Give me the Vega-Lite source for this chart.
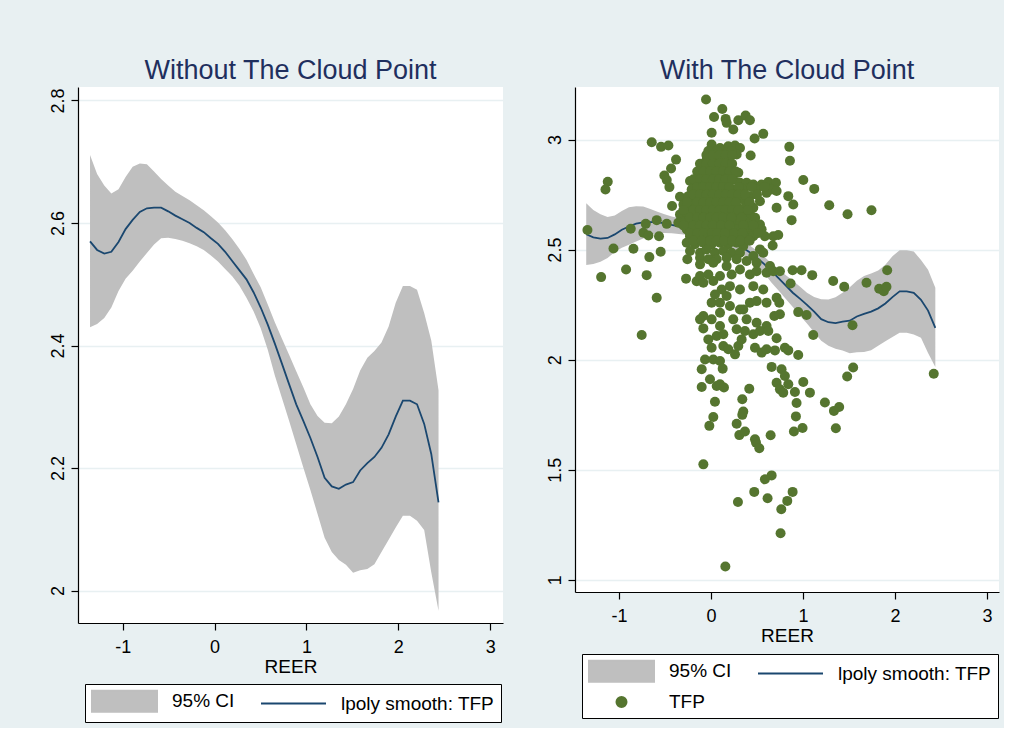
{
"$schema": "https://vega.github.io/schema/vega-lite/v6.json",
"background": "#e8f0f2",
"padding": {"left": 48, "top": 57, "right": 5, "bottom": 5},
"config": {
  "font": "Liberation Sans",
  "view": {"fill": "white", "stroke": null},
  "axis": {"domainColor": "black", "tickColor": "black", "labelColor": "black", "titleColor": "black", "labelFont": "Liberation Sans", "titleFont": "Liberation Sans", "labelFontSize": 18, "titleFontSize": 19, "titleFontWeight": "normal", "tickSize": 7, "gridColor": "#e8f0f2", "gridWidth": 1.5, "domainWidth": 1.2, "tickWidth": 1.2, "labelExpr": "'' + datum.value"},
  "title": {"font": "Liberation Sans", "fontSize": 27, "fontWeight": "normal", "color": "#1f2f5e", "frame": "group", "baseline": "alphabetic", "offset": 2, "anchor": "middle"},
  "legend": {"strokeColor": "black", "fillColor": "white", "padding": 6, "labelFont": "Liberation Sans", "labelFontSize": 19, "labelColor": "black", "labelLimit": 400, "symbolSize": 400, "labelOffset": 59, "columnPadding": 22, "rowPadding": 5, "gridAlign": "each"}
},
"datasets": {
  "smooth": [
    {"x":-1.356,"lo":2.430,"fit":2.570,"hi":2.711},
    {"x":-1.279,"lo":2.435,"fit":2.556,"hi":2.680},
    {"x":-1.201,"lo":2.445,"fit":2.550,"hi":2.661},
    {"x":-1.124,"lo":2.462,"fit":2.553,"hi":2.648},
    {"x":-1.046,"lo":2.489,"fit":2.569,"hi":2.655},
    {"x":-0.969,"lo":2.509,"fit":2.590,"hi":2.675},
    {"x":-0.892,"lo":2.522,"fit":2.605,"hi":2.692},
    {"x":-0.814,"lo":2.537,"fit":2.618,"hi":2.697},
    {"x":-0.737,"lo":2.551,"fit":2.624,"hi":2.696},
    {"x":-0.659,"lo":2.565,"fit":2.625,"hi":2.684},
    {"x":-0.582,"lo":2.575,"fit":2.625,"hi":2.672},
    {"x":-0.505,"lo":2.576,"fit":2.619,"hi":2.661},
    {"x":-0.427,"lo":2.574,"fit":2.612,"hi":2.651},
    {"x":-0.350,"lo":2.571,"fit":2.606,"hi":2.644},
    {"x":-0.272,"lo":2.567,"fit":2.600,"hi":2.637},
    {"x":-0.195,"lo":2.562,"fit":2.592,"hi":2.629},
    {"x":-0.118,"lo":2.556,"fit":2.585,"hi":2.621},
    {"x":-0.040,"lo":2.547,"fit":2.575,"hi":2.611},
    {"x":0.037,"lo":2.537,"fit":2.566,"hi":2.601},
    {"x":0.115,"lo":2.525,"fit":2.553,"hi":2.588},
    {"x":0.192,"lo":2.513,"fit":2.538,"hi":2.574},
    {"x":0.269,"lo":2.498,"fit":2.523,"hi":2.558},
    {"x":0.347,"lo":2.478,"fit":2.508,"hi":2.540},
    {"x":0.424,"lo":2.456,"fit":2.487,"hi":2.517},
    {"x":0.502,"lo":2.428,"fit":2.462,"hi":2.495},
    {"x":0.579,"lo":2.393,"fit":2.434,"hi":2.467},
    {"x":0.656,"lo":2.351,"fit":2.403,"hi":2.438},
    {"x":0.734,"lo":2.314,"fit":2.370,"hi":2.411},
    {"x":0.811,"lo":2.277,"fit":2.337,"hi":2.385},
    {"x":0.889,"lo":2.239,"fit":2.304,"hi":2.358},
    {"x":0.966,"lo":2.201,"fit":2.277,"hi":2.332},
    {"x":1.043,"lo":2.164,"fit":2.249,"hi":2.304},
    {"x":1.121,"lo":2.125,"fit":2.218,"hi":2.285},
    {"x":1.198,"lo":2.086,"fit":2.184,"hi":2.274},
    {"x":1.276,"lo":2.063,"fit":2.170,"hi":2.273},
    {"x":1.353,"lo":2.050,"fit":2.166,"hi":2.284},
    {"x":1.430,"lo":2.042,"fit":2.173,"hi":2.304},
    {"x":1.508,"lo":2.029,"fit":2.177,"hi":2.329},
    {"x":1.585,"lo":2.033,"fit":2.196,"hi":2.359},
    {"x":1.663,"lo":2.035,"fit":2.208,"hi":2.380},
    {"x":1.740,"lo":2.043,"fit":2.218,"hi":2.391},
    {"x":1.817,"lo":2.063,"fit":2.233,"hi":2.405},
    {"x":1.895,"lo":2.083,"fit":2.255,"hi":2.431},
    {"x":1.972,"lo":2.103,"fit":2.284,"hi":2.470},
    {"x":2.050,"lo":2.122,"fit":2.310,"hi":2.497},
    {"x":2.127,"lo":2.122,"fit":2.310,"hi":2.497},
    {"x":2.204,"lo":2.114,"fit":2.304,"hi":2.491},
    {"x":2.282,"lo":2.099,"fit":2.272,"hi":2.453},
    {"x":2.359,"lo":2.030,"fit":2.223,"hi":2.408},
    {"x":2.438,"lo":1.967,"fit":2.144,"hi":2.327}
  ],
  "pts": [
    {"x":-0.054,"y":3.182},{"x":0.123,"y":3.139},{"x":0.033,"y":3.103},{"x":0.159,"y":3.094},{"x":0.170,"y":3.076},{"x":0.297,"y":3.088},{"x":0.376,"y":3.109},{"x":0.423,"y":3.088},{"x":0.242,"y":3.046},{"x":0.007,"y":3.031},{"x":0.568,"y":3.026},{"x":0.474,"y":3.005},{"x":-0.644,"y":2.988},{"x":-0.543,"y":2.967},{"x":-0.463,"y":2.973},{"x":0.851,"y":2.967},{"x":0.858,"y":2.904},{"x":0.431,"y":2.928},{"x":-0.380,"y":2.909},{"x":-0.434,"y":2.869},{"x":-0.507,"y":2.837},{"x":-0.481,"y":2.816},{"x":-1.122,"y":2.808},{"x":-1.147,"y":2.773},{"x":-0.452,"y":2.784},{"x":1.003,"y":2.816},{"x":1.122,"y":2.776},{"x":-0.337,"y":2.740},{"x":-0.423,"y":2.698},{"x":1.285,"y":2.702},{"x":1.484,"y":2.661},{"x":1.744,"y":2.679},{"x":-1.343,"y":2.589},{"x":-0.872,"y":2.595},{"x":-0.709,"y":2.617},{"x":-0.590,"y":2.634},{"x":-0.481,"y":2.617},{"x":-0.735,"y":2.577},{"x":-0.680,"y":2.564},{"x":-0.565,"y":2.561},{"x":-1.060,"y":2.505},{"x":-0.843,"y":2.504},{"x":-0.547,"y":2.490},{"x":-0.670,"y":2.466},{"x":-0.923,"y":2.410},{"x":-1.194,"y":2.375},{"x":-0.699,"y":2.384},{"x":-0.590,"y":2.281},{"x":0.876,"y":2.634},{"x":0.894,"y":2.705},{"x":0.840,"y":2.743},{"x":0.713,"y":2.690},{"x":0.677,"y":2.561},{"x":0.731,"y":2.566},{"x":0.670,"y":2.519},{"x":0.887,"y":2.406},{"x":0.984,"y":2.406},{"x":1.100,"y":2.384},{"x":1.328,"y":2.357},{"x":1.448,"y":2.331},{"x":1.690,"y":2.349},{"x":1.915,"y":2.406},{"x":1.828,"y":2.322},{"x":1.878,"y":2.311},{"x":1.907,"y":2.331},{"x":0.865,"y":2.346},{"x":0.948,"y":2.216},{"x":1.039,"y":2.203},{"x":1.538,"y":2.156},{"x":-0.271,"y":2.368},{"x":-0.156,"y":2.356},{"x":-0.119,"y":2.380},{"x":0.713,"y":2.281},{"x":0.742,"y":2.259},{"x":0.688,"y":2.198},{"x":0.749,"y":2.206},
    {"x":0.007,"y":2.978},{"x":0.098,"y":2.962},{"x":0.188,"y":2.970},{"x":0.261,"y":2.973},{"x":0.315,"y":2.962},{"x":-0.029,"y":2.948},{"x":0.170,"y":2.940},{"x":0.279,"y":2.932},{"x":0.062,"y":2.948},{"x":0.224,"y":2.948},
    {"x":-0.047,"y":2.909},{"x":0.025,"y":2.917},{"x":0.098,"y":2.909},{"x":0.170,"y":2.902},{"x":0.206,"y":2.879},{"x":-0.083,"y":2.879},{"x":-0.011,"y":2.879},{"x":0.062,"y":2.872},{"x":0.134,"y":2.864},{"x":0.297,"y":2.849},{"x":-0.119,"y":2.849},{"x":-0.047,"y":2.842},{"x":0.025,"y":2.842},{"x":0.098,"y":2.834},{"x":0.170,"y":2.826},{"x":0.242,"y":2.819},{"x":-0.174,"y":2.819},{"x":-0.228,"y":2.812},{"x":-0.101,"y":2.812},{"x":-0.011,"y":2.812},{"x":0.062,"y":2.804},{"x":0.152,"y":2.796},{"x":0.315,"y":2.804},
    {"x":0.387,"y":2.804},{"x":0.460,"y":2.796},{"x":0.550,"y":2.796},{"x":0.623,"y":2.807},{"x":0.706,"y":2.804},{"x":0.659,"y":2.773},{"x":0.713,"y":2.766},{"x":0.604,"y":2.758},{"x":0.496,"y":2.773},{"x":0.423,"y":2.743},{"x":0.532,"y":2.720},{"x":-0.210,"y":2.773},{"x":-0.137,"y":2.773},{"x":-0.065,"y":2.773},{"x":0.007,"y":2.766},{"x":0.080,"y":2.773},{"x":0.224,"y":2.773},{"x":0.279,"y":2.758},{"x":0.351,"y":2.773},
    {"x":-0.246,"y":2.743},{"x":-0.174,"y":2.736},{"x":-0.101,"y":2.743},{"x":-0.029,"y":2.736},{"x":0.043,"y":2.743},{"x":0.116,"y":2.736},{"x":0.188,"y":2.743},{"x":0.261,"y":2.728},{"x":0.351,"y":2.728},{"x":-0.300,"y":2.705},{"x":-0.228,"y":2.705},{"x":-0.156,"y":2.705},{"x":-0.083,"y":2.705},{"x":-0.011,"y":2.705},{"x":0.062,"y":2.713},{"x":0.134,"y":2.705},{"x":0.206,"y":2.705},{"x":0.297,"y":2.690},{"x":0.387,"y":2.698},{"x":0.460,"y":2.690},
    {"x":-0.337,"y":2.660},{"x":-0.264,"y":2.667},{"x":-0.192,"y":2.667},{"x":-0.119,"y":2.667},{"x":-0.047,"y":2.660},{"x":0.025,"y":2.667},{"x":0.098,"y":2.660},{"x":0.188,"y":2.660},{"x":0.261,"y":2.652},{"x":0.351,"y":2.660},{"x":0.442,"y":2.652},{"x":-0.355,"y":2.622},{"x":-0.282,"y":2.629},{"x":-0.210,"y":2.629},{"x":-0.137,"y":2.622},{"x":-0.065,"y":2.629},{"x":0.007,"y":2.622},{"x":0.080,"y":2.622},{"x":0.170,"y":2.614},{"x":0.242,"y":2.622},{"x":0.315,"y":2.614},{"x":0.387,"y":2.622},{"x":0.532,"y":2.614},
    {"x":-0.264,"y":2.592},{"x":-0.174,"y":2.592},{"x":-0.101,"y":2.592},{"x":-0.029,"y":2.584},{"x":0.043,"y":2.592},{"x":0.116,"y":2.592},{"x":0.206,"y":2.584},{"x":0.297,"y":2.592},{"x":0.387,"y":2.584},{"x":0.460,"y":2.592},{"x":0.550,"y":2.592},{"x":-0.228,"y":2.561},{"x":-0.137,"y":2.561},{"x":-0.047,"y":2.554},{"x":0.025,"y":2.561},{"x":0.098,"y":2.554},{"x":0.188,"y":2.561},{"x":0.279,"y":2.561},{"x":0.369,"y":2.554},{"x":0.460,"y":2.561},{"x":0.586,"y":2.561},
    {"x":-0.264,"y":2.531},{"x":-0.174,"y":2.524},{"x":-0.083,"y":2.531},{"x":0.007,"y":2.524},{"x":0.098,"y":2.531},{"x":0.188,"y":2.524},{"x":0.279,"y":2.531},{"x":0.351,"y":2.516},{"x":0.532,"y":2.501},{"x":0.568,"y":2.486},{"x":-0.228,"y":2.494},{"x":-0.119,"y":2.486},{"x":-0.047,"y":2.501},{"x":0.043,"y":2.486},{"x":0.134,"y":2.494},{"x":0.224,"y":2.486},{"x":0.315,"y":2.486},{"x":0.460,"y":2.471},{"x":-0.257,"y":2.456},{"x":-0.119,"y":2.463},{"x":-0.029,"y":2.456},{"x":0.062,"y":2.456},{"x":0.170,"y":2.463},{"x":0.279,"y":2.456},{"x":0.387,"y":2.448},{"x":0.496,"y":2.440},
    {"x":-0.119,"y":2.433},{"x":0.025,"y":2.440},{"x":0.170,"y":2.425},{"x":0.315,"y":2.410},{"x":0.423,"y":2.387},{"x":0.496,"y":2.402},{"x":0.604,"y":2.395},{"x":0.641,"y":2.425},{"x":0.677,"y":2.402},{"x":0.749,"y":2.402},{"x":-0.029,"y":2.387},{"x":0.098,"y":2.380},{"x":0.224,"y":2.387},{"x":-0.083,"y":2.349},{"x":0.025,"y":2.357},{"x":0.116,"y":2.319},{"x":0.206,"y":2.334},{"x":0.315,"y":2.319},{"x":0.460,"y":2.334},{"x":0.568,"y":2.319},{"x":0.007,"y":2.259},{"x":0.098,"y":2.259},{"x":0.206,"y":2.244},{"x":0.315,"y":2.228},{"x":0.423,"y":2.259},{"x":0.496,"y":2.266},{"x":0.604,"y":2.259},{"x":0.043,"y":2.296},{"x":0.170,"y":2.289},{"x":-0.083,"y":2.198},{"x":0.007,"y":2.183},{"x":0.098,"y":2.213},{"x":0.242,"y":2.183},{"x":0.387,"y":2.183},{"x":0.496,"y":2.168},{"x":0.604,"y":2.153},{"x":0.098,"y":2.153},{"x":0.279,"y":2.138},{"x":-0.119,"y":2.183},{"x":0.351,"y":2.228},
    {"x":-0.753,"y":2.112},{"x":-0.083,"y":2.142},{"x":-0.029,"y":2.092},{"x":0.007,"y":2.054},{"x":0.062,"y":2.107},{"x":0.134,"y":2.115},{"x":0.134,"y":2.062},{"x":0.188,"y":2.047},{"x":0.261,"y":2.024},{"x":0.297,"y":2.062},{"x":0.333,"y":2.092},{"x":0.369,"y":2.130},{"x":0.460,"y":2.115},{"x":0.532,"y":2.130},{"x":0.623,"y":2.130},{"x":0.478,"y":2.054},{"x":0.550,"y":2.032},{"x":0.604,"y":2.047},{"x":0.695,"y":2.042},{"x":0.713,"y":2.097},{"x":0.803,"y":2.054},{"x":0.840,"y":2.042},{"x":0.948,"y":2.021},{"x":1.111,"y":2.112},
    {"x":-0.065,"y":2.001},{"x":0.025,"y":2.001},{"x":0.098,"y":1.994},{"x":-0.101,"y":1.956},{"x":0.127,"y":1.959},{"x":-0.011,"y":1.911},{"x":-0.101,"y":1.876},{"x":0.062,"y":1.880},{"x":0.098,"y":1.888},{"x":0.141,"y":1.873},{"x":0.659,"y":1.967},{"x":0.767,"y":1.956},{"x":0.803,"y":1.926},{"x":0.713,"y":1.895},{"x":0.749,"y":1.865},{"x":0.785,"y":1.850},{"x":0.840,"y":1.888},{"x":0.912,"y":1.853},{"x":1.003,"y":1.898},{"x":1.075,"y":1.850},{"x":0.930,"y":1.803},{"x":1.238,"y":1.805},{"x":1.336,"y":1.767},{"x":1.393,"y":1.785},{"x":1.357,"y":1.688},{"x":0.923,"y":1.742},{"x":0.901,"y":1.673},{"x":0.995,"y":1.689},
    {"x":0.416,"y":1.868},{"x":0.340,"y":1.820},{"x":0.043,"y":1.809},{"x":0.025,"y":1.739},{"x":-0.018,"y":1.699},{"x":0.351,"y":1.764},{"x":0.340,"y":1.749},{"x":0.279,"y":1.709},{"x":0.308,"y":1.657},{"x":0.369,"y":1.673},{"x":0.478,"y":1.638},{"x":0.489,"y":1.623},{"x":0.525,"y":1.597},{"x":0.648,"y":1.656},{"x":-0.083,"y":1.524},{"x":0.659,"y":1.474},{"x":0.586,"y":1.456},{"x":0.470,"y":1.399},{"x":0.615,"y":1.370},{"x":0.293,"y":1.353},{"x":0.887,"y":1.399},{"x":0.829,"y":1.358},{"x":0.764,"y":1.320},{"x":0.756,"y":1.211},{"x":0.156,"y":1.060},{"x":1.545,"y":1.964},{"x":1.480,"y":1.923},{"x":2.421,"y":1.936},
    {"x":-0.05,"y":2.93},{"x":0.02,"y":2.93},{"x":0.09,"y":2.93},{"x":0.16,"y":2.93},{"x":0.23,"y":2.93},
    {"x":-0.12,"y":2.89},{"x":-0.05,"y":2.89},{"x":0.02,"y":2.89},{"x":0.09,"y":2.89},{"x":0.16,"y":2.89},{"x":0.23,"y":2.89},
    {"x":-0.15,"y":2.855},{"x":-0.08,"y":2.855},{"x":-0.01,"y":2.855},{"x":0.06,"y":2.855},{"x":0.13,"y":2.855},{"x":0.20,"y":2.855},{"x":0.27,"y":2.855},
    {"x":-0.19,"y":2.82},{"x":-0.12,"y":2.82},{"x":-0.05,"y":2.82},{"x":0.02,"y":2.82},{"x":0.09,"y":2.82},{"x":0.16,"y":2.82},{"x":0.23,"y":2.82},
    {"x":-0.15,"y":2.785},{"x":-0.08,"y":2.785},{"x":-0.01,"y":2.785},{"x":0.06,"y":2.785},{"x":0.13,"y":2.785},{"x":0.20,"y":2.785},{"x":0.30,"y":2.785},{"x":0.44,"y":2.785},{"x":0.58,"y":2.785},
    {"x":-0.19,"y":2.75},{"x":-0.12,"y":2.75},{"x":-0.05,"y":2.75},{"x":0.02,"y":2.75},{"x":0.09,"y":2.75},{"x":0.16,"y":2.75},{"x":0.23,"y":2.75},{"x":0.30,"y":2.75},{"x":0.37,"y":2.75},{"x":0.50,"y":2.75},
    {"x":-0.26,"y":2.715},{"x":-0.15,"y":2.715},{"x":-0.08,"y":2.715},{"x":-0.01,"y":2.715},{"x":0.06,"y":2.715},{"x":0.13,"y":2.715},{"x":0.20,"y":2.715},{"x":0.27,"y":2.715},{"x":0.42,"y":2.715},
    {"x":-0.30,"y":2.68},{"x":-0.19,"y":2.68},{"x":-0.12,"y":2.68},{"x":-0.05,"y":2.68},{"x":0.02,"y":2.68},{"x":0.09,"y":2.68},{"x":0.16,"y":2.68},{"x":0.23,"y":2.68},{"x":0.30,"y":2.68},{"x":0.40,"y":2.68},
    {"x":-0.23,"y":2.645},{"x":-0.15,"y":2.645},{"x":-0.08,"y":2.645},{"x":-0.01,"y":2.645},{"x":0.06,"y":2.645},{"x":0.13,"y":2.645},{"x":0.22,"y":2.645},{"x":0.33,"y":2.645},{"x":0.48,"y":2.645},
    {"x":-0.30,"y":2.61},{"x":-0.19,"y":2.61},{"x":-0.12,"y":2.61},{"x":-0.05,"y":2.61},{"x":0.02,"y":2.61},{"x":0.11,"y":2.61},{"x":0.20,"y":2.61},{"x":0.35,"y":2.61},{"x":0.46,"y":2.61},
    {"x":-0.23,"y":2.575},{"x":-0.15,"y":2.575},{"x":-0.08,"y":2.575},{"x":0.01,"y":2.575},{"x":0.07,"y":2.575},{"x":0.15,"y":2.575},{"x":0.25,"y":2.575},{"x":0.34,"y":2.575},{"x":0.51,"y":2.575},
    {"x":-0.19,"y":2.54},{"x":-0.10,"y":2.54},{"x":-0.01,"y":2.54},{"x":0.06,"y":2.54},{"x":0.14,"y":2.54},{"x":0.23,"y":2.54},{"x":0.32,"y":2.54},{"x":0.42,"y":2.54}
  ]
},
"spacing": 72,
"bounds": "flush",
"resolve": {"scale": {"color": "independent"}},
"hconcat": [
  {
    "width": 425, "height": 536,
    "title": {"text": "Without The Cloud Point"},
    "data": {"name": "smooth"},
    "layer": [
      {
        "mark": {"type": "area", "opacity": 1},
        "encoding": {
          "x": {"field": "x", "type": "quantitative", "scale": {"domain": [-1.487, 3.14], "nice": false, "zero": false}, "axis": {"values": [-1, 0, 1, 2, 3], "grid": false, "title": "REER", "titleY": 49, "titleBaseline": "alphabetic", "labelPadding": 8}},
          "y": {"field": "lo", "type": "quantitative", "scale": {"domain": [1.947, 2.822], "nice": false, "zero": false}, "axis": {"values": [2, 2.2, 2.4, 2.6, 2.8], "grid": true, "title": null, "labelAngle": 270, "labelAlign": "center", "labelBaseline": "alphabetic", "labelPadding": 8}},
          "y2": {"field": "hi"},
          "color": {"datum": "95% CI", "type": "nominal",
            "scale": {"domain": ["95% CI", "lpoly smooth: TFP"], "range": ["#bfbfbf", "#1a476f"]},
            "legend": {"orient": "none", "legendX": 7, "legendY": 597, "direction": "horizontal", "columns": 2, "title": null,
              "encode": {"symbols": {"update": {
                "shape": {"signal": "datum.value === '95% CI' ? 'M-1,-1.05H5.5V1.05H-1Z' : datum.value === 'TFP' ? 'M1.75,0A0.5,0.5,0,1,1,2.75,0A0.5,0.5,0,1,1,1.75,0Z' : 'M-1,0H5.5'"},
                "fill": {"signal": "datum.value === '95% CI' ? '#bfbfbf' : datum.value === 'TFP' ? '#55752f' : 'transparent'"},
                "stroke": {"signal": "datum.value === 'lpoly smooth: TFP' ? '#1a476f' : 'transparent'"},
                "strokeWidth": {"value": 2},
                "opacity": {"value": 1}
              }}}
            }
          }
        }
      },
      {
        "mark": {"type": "line", "strokeWidth": 1.8},
        "encoding": {
          "x": {"field": "x", "type": "quantitative"},
          "y": {"field": "fit", "type": "quantitative"},
          "color": {"datum": "lpoly smooth: TFP", "type": "nominal",
            "legend": {"orient": "none", "legendX": 7, "legendY": 597, "direction": "horizontal", "columns": 2, "title": null,
              "encode": {"symbols": {"update": {
                "shape": {"signal": "datum.value === '95% CI' ? 'M-1,-1.05H5.5V1.05H-1Z' : datum.value === 'TFP' ? 'M1.75,0A0.5,0.5,0,1,1,2.75,0A0.5,0.5,0,1,1,1.75,0Z' : 'M-1,0H5.5'"},
                "fill": {"signal": "datum.value === '95% CI' ? '#bfbfbf' : datum.value === 'TFP' ? '#55752f' : 'transparent'"},
                "stroke": {"signal": "datum.value === 'lpoly smooth: TFP' ? '#1a476f' : 'transparent'"},
                "strokeWidth": {"value": 2},
                "opacity": {"value": 1}
              }}}
            }
          }
        }
      }
    ]
  },
  {
    "width": 424, "height": 505,
    "title": {"text": "With The Cloud Point"},
    "layer": [
      {
        "data": {"name": "smooth"},
        "mark": {"type": "area", "opacity": 1},
        "encoding": {
          "x": {"field": "x", "type": "quantitative", "scale": {"domain": [-1.478, 3.13], "nice": false, "zero": false}, "axis": {"values": [-1, 0, 1, 2, 3], "grid": false, "title": "REER", "titleY": 49, "titleBaseline": "alphabetic", "labelPadding": 8}},
          "y": {"field": "lo", "type": "quantitative", "scale": {"domain": [0.944, 3.239], "nice": false, "zero": false}, "axis": {"values": [1, 1.5, 2, 2.5, 3], "grid": true, "title": null, "labelAngle": 270, "labelAlign": "center", "labelBaseline": "alphabetic", "labelPadding": 8}},
          "y2": {"field": "hi"},
          "color": {"datum": "95% CI", "type": "nominal",
            "scale": {"domain": ["95% CI", "lpoly smooth: TFP", "TFP"], "range": ["#bfbfbf", "#1a476f", "#55752f"]},
            "legend": {"orient": "none", "legendX": 7, "legendY": 567, "direction": "horizontal", "columns": 2, "title": null,
              "encode": {"symbols": {"update": {
                "shape": {"signal": "datum.value === '95% CI' ? 'M-1,-1.05H5.5V1.05H-1Z' : datum.value === 'TFP' ? 'M1.75,0A0.5,0.5,0,1,1,2.75,0A0.5,0.5,0,1,1,1.75,0Z' : 'M-1,0H5.5'"},
                "fill": {"signal": "datum.value === '95% CI' ? '#bfbfbf' : datum.value === 'TFP' ? '#55752f' : 'transparent'"},
                "stroke": {"signal": "datum.value === 'lpoly smooth: TFP' ? '#1a476f' : 'transparent'"},
                "strokeWidth": {"value": 2},
                "opacity": {"value": 1}
              }}}
            }
          }
        }
      },
      {
        "data": {"name": "smooth"},
        "mark": {"type": "line", "strokeWidth": 1.8},
        "encoding": {
          "x": {"field": "x", "type": "quantitative"},
          "y": {"field": "fit", "type": "quantitative"},
          "color": {"datum": "lpoly smooth: TFP", "type": "nominal",
            "legend": {"orient": "none", "legendX": 7, "legendY": 567, "direction": "horizontal", "columns": 2, "title": null,
              "encode": {"symbols": {"update": {
                "shape": {"signal": "datum.value === '95% CI' ? 'M-1,-1.05H5.5V1.05H-1Z' : datum.value === 'TFP' ? 'M1.75,0A0.5,0.5,0,1,1,2.75,0A0.5,0.5,0,1,1,1.75,0Z' : 'M-1,0H5.5'"},
                "fill": {"signal": "datum.value === '95% CI' ? '#bfbfbf' : datum.value === 'TFP' ? '#55752f' : 'transparent'"},
                "stroke": {"signal": "datum.value === 'lpoly smooth: TFP' ? '#1a476f' : 'transparent'"},
                "strokeWidth": {"value": 2},
                "opacity": {"value": 1}
              }}}
            }
          }
        }
      },
      {
        "data": {"name": "pts"},
        "mark": {"type": "circle", "size": 100, "opacity": 1},
        "encoding": {
          "x": {"field": "x", "type": "quantitative"},
          "y": {"field": "y", "type": "quantitative"},
          "color": {"datum": "TFP", "type": "nominal",
            "legend": {"orient": "none", "legendX": 7, "legendY": 567, "direction": "horizontal", "columns": 2, "title": null,
              "encode": {"symbols": {"update": {
                "shape": {"signal": "datum.value === '95% CI' ? 'M-1,-1.05H5.5V1.05H-1Z' : datum.value === 'TFP' ? 'M1.75,0A0.5,0.5,0,1,1,2.75,0A0.5,0.5,0,1,1,1.75,0Z' : 'M-1,0H5.5'"},
                "fill": {"signal": "datum.value === '95% CI' ? '#bfbfbf' : datum.value === 'TFP' ? '#55752f' : 'transparent'"},
                "stroke": {"signal": "datum.value === 'lpoly smooth: TFP' ? '#1a476f' : 'transparent'"},
                "strokeWidth": {"value": 2},
                "opacity": {"value": 1}
              }}}
            }
          }
        }
      }
    ]
  }
]
}
